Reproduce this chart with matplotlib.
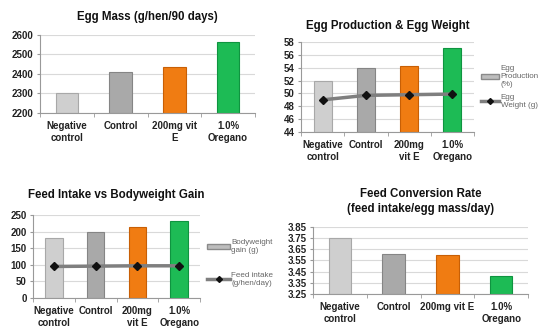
import matplotlib
matplotlib.use('Agg')
from matplotlib import pyplot as plt
from matplotlib.patches import Patch
from matplotlib.lines import Line2D
import numpy as np

plt.rcParams['font.family'] = ['Liberation Sans', 'DejaVu Sans']

groups = ['Negative\ncontrol', 'Control', '200mg vit\nE', '1.0%\nOregano']
groups_b = ['Negative\ncontrol', 'Control', '200mg\nvit E', '1.0%\nOregano']
groups_d = ['Negative\ncontrol', 'Control', '200mg vit E', '1.0%\nOregano']

egg_mass = [2300, 2410, 2435, 2565]
egg_production = [52.0, 54.0, 54.3, 57.1]
egg_weight = [49.0, 49.7, 49.8, 49.9]
bw_gain = [180, 200, 213, 232]
feed_intake = [95, 96, 97, 97]
fcr = [3.75, 3.61, 3.595, 3.415]

bar_colors = ['#cfcfcf', '#a9a9a9', '#f07c12', '#1dbb55']
edge_colors = ['#a8a8a8', '#858585', '#c85f05', '#0f9440']

W, H = 543, 334
fig = plt.figure(figsize=(W / 100, H / 100), dpi=100)


def make_ax(x0, y0, x1, y1):
    # pixel box (top-left origin) -> figure fraction
    return fig.add_axes([x0 / W, 1 - y1 / H, (x1 - x0) / W, (y1 - y0) / H])


def style(ax, labels, ymin, ymax, step, fmt):
    x = np.arange(len(labels))
    ax.set_xlim(-0.5, len(labels) - 0.5)
    ax.set_ylim(ymin, ymax)
    ticks = np.arange(ymin, ymax + step / 2, step)
    ax.set_yticks(ticks)
    ax.set_yticklabels([fmt % t for t in ticks])
    ax.set_xticks(x)
    ax.set_xticklabels(labels, fontsize=7, fontweight='bold', color='#222222')
    ax.set_xticks(np.arange(-0.5, len(labels)), minor=True)
    ax.tick_params(axis='x', which='major', length=0, pad=6)
    ax.tick_params(axis='x', which='minor', length=3, color='#999999')
    ax.tick_params(axis='y', length=2.5, color='#999999', labelsize=7, pad=2)
    for lab in ax.get_yticklabels():
        lab.set_fontweight('bold')
        lab.set_color('#222222')
    ax.grid(axis='y', color='#d9d9d9', linewidth=0.8)
    ax.set_axisbelow(True)
    for s in ['top', 'right']:
        ax.spines[s].set_visible(False)
    for s in ['left', 'bottom']:
        ax.spines[s].set_color('#999999')
        ax.spines[s].set_linewidth(0.8)


def bars(ax, vals, bottom):
    x = np.arange(len(vals))
    ax.bar(x, np.array(vals) - bottom, bottom=bottom, width=0.42,
           color=bar_colors, edgecolor=edge_colors, linewidth=0.8)


def legend_handles():
    return [Patch(facecolor='#bdbdbd', edgecolor='#8a8a8a'),
            Line2D([], [], color='#7f7f7f', linewidth=2.5, marker='D', markersize=3,
                   markerfacecolor='#111111', markeredgecolor='#111111')]


title_kw = dict(fontsize=8.3, fontweight='bold', color='#111111')

# Egg mass
ax1 = make_ax(40, 35, 255, 113)
bars(ax1, egg_mass, 2200)
style(ax1, groups, 2200, 2600, 100, '%d')
ax1.set_title('Egg Mass (g/hen/90 days)', pad=11, **title_kw)

# Egg production & egg weight
ax2 = make_ax(301, 42, 474, 132)
bars(ax2, egg_production, 44)
ax2.plot(np.arange(4), egg_weight, color='#7f7f7f', linewidth=2.5,
         marker='D', markersize=4.5, markerfacecolor='#111111', markeredgecolor='#111111')
style(ax2, groups_b, 44, 58, 2, '%d')
ax2.set_title('Egg Production & Egg Weight', pad=9, **title_kw)
ax2.legend(legend_handles(), ['Egg\nProduction\n(%)', 'Egg\nWeight (g)'], loc='center left',
           bbox_to_anchor=(1.0, 0.5), frameon=False, fontsize=5.8,
           labelcolor='#666666', handlelength=2.2, handletextpad=0.2, labelspacing=0.7)

# Feed intake vs bodyweight gain
ax3 = make_ax(33, 215, 200, 298)
bars(ax3, bw_gain, 0)
ax3.plot(np.arange(4), feed_intake, color='#7f7f7f', linewidth=2.5,
         marker='D', markersize=4.5, markerfacecolor='#111111', markeredgecolor='#111111')
style(ax3, groups_b, 0, 250, 50, '%d')
ax3.set_title('Feed Intake vs Bodyweight Gain', pad=12, **title_kw)
ax3.legend(legend_handles(), ['Bodyweight\ngain (g)', 'Feed intake\n(g/hen/day)'],
           loc='center left', bbox_to_anchor=(1.0, 0.42), frameon=False, fontsize=5.8,
           labelcolor='#666666', handlelength=2.8, handletextpad=0.2, labelspacing=2.2)

# Feed conversion rate
ax4 = make_ax(313, 227, 528, 294)
bars(ax4, fcr, 3.25)
style(ax4, groups_d, 3.25, 3.85, 0.1, '%.2f')
ax4.set_title('Feed Conversion Rate\n(feed intake/egg mass/day)', pad=11,
              linespacing=1.3, **title_kw)

fig.savefig('out.png', dpi=100)
